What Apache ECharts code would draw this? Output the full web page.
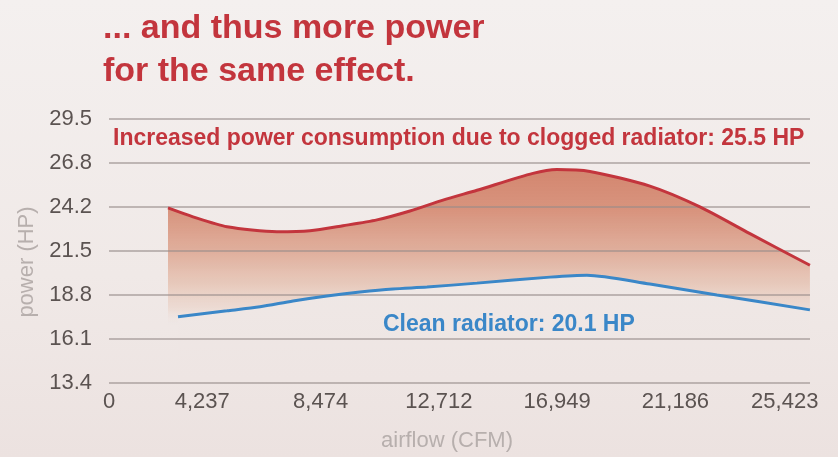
<!DOCTYPE html>
<html>
<head>
<meta charset="utf-8">
<script src="https://cdn.jsdelivr.net/npm/echarts@6/dist/echarts.min.js"></script>
<style>
  html, body { margin: 0; padding: 0; }
  #chart {
    width: 838px; height: 457px;
    background: linear-gradient(180deg, #f4f0ef 0%, #f0e9e7 60%, #ece2e0 100%);
  }
</style>
</head>
<body>
<div id="chart"></div>
<script>
// airflow (CFM) / power (HP)
var cloggedX = [3009, 3904, 5122, 6912, 8094, 9276, 10494, 11676, 12858, 14076, 16081, 16941, 18123, 20272, 22063, 23853, 26002];
var cloggedY = [24.03, 23.48, 22.87, 22.56, 22.62, 22.93, 23.29, 23.84, 24.51, 25.12, 26.16, 26.40, 26.28, 25.37, 24.09, 22.44, 20.49];
var cleanX = [3367, 5122, 6304, 7486, 8703, 9885, 11067, 12285, 14076, 16690, 18015, 20272, 22672, 26002];
var cleanY = [17.32, 17.68, 17.93, 18.29, 18.60, 18.84, 19.03, 19.15, 19.39, 19.76, 19.88, 19.33, 18.66, 17.74];

var xTickLabels = ['0', '4,237', '8,474', '12,712', '16,949', '21,186', '25,423'];
var yTickLabels = ['13.4', '16.1', '18.8', '21.5', '24.2', '26.8', '29.5'];

var font = 'Liberation Sans, Arial, sans-serif';
var red = '#c3353d';
var blue = '#3a87c8';
var labelColor = '#5b5351';
var nameColor = '#b7afad';

function pairs(xs, ys) {
    return xs.map(function (x, i) { return [x, ys[i]]; });
}

var chart = echarts.init(document.getElementById('chart'));

var yCommon = { type: 'value', min: 13.415, max: 29.513, interval: 2.683 };

chart.setOption({
    backgroundColor: 'transparent',
    textStyle: { fontFamily: font },
    title: [
        {
            text: '... and thus more power\nfor the same effect.',
            left: 98, top: 2,
            textStyle: { color: red, fontSize: 34, fontWeight: 'bold', lineHeight: 43, fontFamily: font }
        },
        {
            text: 'Increased power consumption due to clogged radiator: 25.5 HP',
            left: 108, top: 122,
            textStyle: { color: red, fontSize: 23, fontWeight: 'bold', fontFamily: font }
        },
        {
            text: 'Clean radiator: 20.1 HP',
            left: 378, top: 308,
            textStyle: { color: blue, fontSize: 23, fontWeight: 'bold', fontFamily: font }
        }
    ],
    grid: [
        { left: 84, right: 28, top: 119, height: 264 },
        { left: 109, right: 28, top: 119, height: 264 }
    ],
    xAxis: [
        {
            gridIndex: 0, type: 'value', min: 0, max: 26005, interval: 4237.17,
            name: 'airflow (CFM)', nameLocation: 'middle', nameGap: 50,
            nameTextStyle: { color: nameColor, fontSize: 22, fontFamily: font },
            axisLine: { show: false }, axisTick: { show: false }, splitLine: { show: false },
            axisLabel: {
                color: labelColor, fontSize: 22, margin: 11, fontFamily: font,
                showMaxLabel: false,
                formatter: function (v, idx) {
                    if (idx === 0) return '{z|0}';
                    if (idx === 6) return '{e|' + xTickLabels[idx] + '}';
                    return xTickLabels[idx] || '';
                },
                rich: {
                    z: { color: labelColor, fontSize: 22, padding: [0, 0, 0, 50], fontFamily: font },
                    e: { color: labelColor, fontSize: 22, padding: [0, 18, 0, 0], fontFamily: font }
                }
            }
        },
        { gridIndex: 1, type: 'value', min: 0, max: 1, show: false }
    ],
    yAxis: [
        Object.assign({ gridIndex: 0, show: false, splitLine: { show: false } }, yCommon),
        Object.assign({
            gridIndex: 1, z: 2,
            name: 'power (HP)', nameLocation: 'middle', nameGap: 68,
            nameTextStyle: { color: nameColor, fontSize: 22, fontFamily: font, padding: [0, 22, 0, 0] },
            axisLine: { show: false }, axisTick: { show: false },
            splitLine: { lineStyle: { color: 'rgba(150,140,138,0.75)', width: 1.5 } },
            axisLabel: {
                color: labelColor, fontSize: 22, margin: 17, fontFamily: font,
                formatter: function (v, idx) { return yTickLabels[idx] || ''; }
            }
        }, yCommon)
    ],
    series: [
        {
            // shaded band under the clogged curve
            type: 'line', xAxisIndex: 0, yAxisIndex: 0, z: 1,
            data: pairs(cloggedX, cloggedY),
            smooth: 0.25, symbol: 'none',
            lineStyle: { width: 0 },
            areaStyle: {
                opacity: 1,
                color: new echarts.graphic.LinearGradient(0, 0, 0, 1, [
                    { offset: 0, color: 'rgba(211,134,111,1)' },
                    { offset: 0.2, color: 'rgba(214,143,120,0.95)' },
                    { offset: 0.4, color: 'rgba(221,166,145,0.85)' },
                    { offset: 0.55, color: 'rgba(228,190,172,0.72)' },
                    { offset: 0.66, color: 'rgba(233,204,190,0.45)' },
                    { offset: 0.74, color: 'rgba(240,230,226,0)' },
                    { offset: 1, color: 'rgba(240,230,226,0)' }
                ])
            }
        },
        {
            // cut the band off below the clean curve
            type: 'line', xAxisIndex: 0, yAxisIndex: 0, z: 1,
            data: pairs(cleanX, cleanY),
            smooth: 0.25, symbol: 'none',
            lineStyle: { width: 0 },
            areaStyle: {
                opacity: 1,
                color: new echarts.graphic.LinearGradient(0, 0, 0, 1, [
                    { offset: 0, color: '#efe8e6' },
                    { offset: 1, color: '#eee5e3' }
                ])
            }
        },
        {
            type: 'line', xAxisIndex: 0, yAxisIndex: 0, z: 4,
            data: pairs(cloggedX, cloggedY),
            smooth: 0.25, symbol: 'none',
            lineStyle: { color: red, width: 3 }
        },
        {
            type: 'line', xAxisIndex: 0, yAxisIndex: 0, z: 4,
            data: pairs(cleanX, cleanY),
            smooth: 0.25, symbol: 'none',
            lineStyle: { color: blue, width: 3 }
        }
    ]
});
</script>
</body>
</html>
